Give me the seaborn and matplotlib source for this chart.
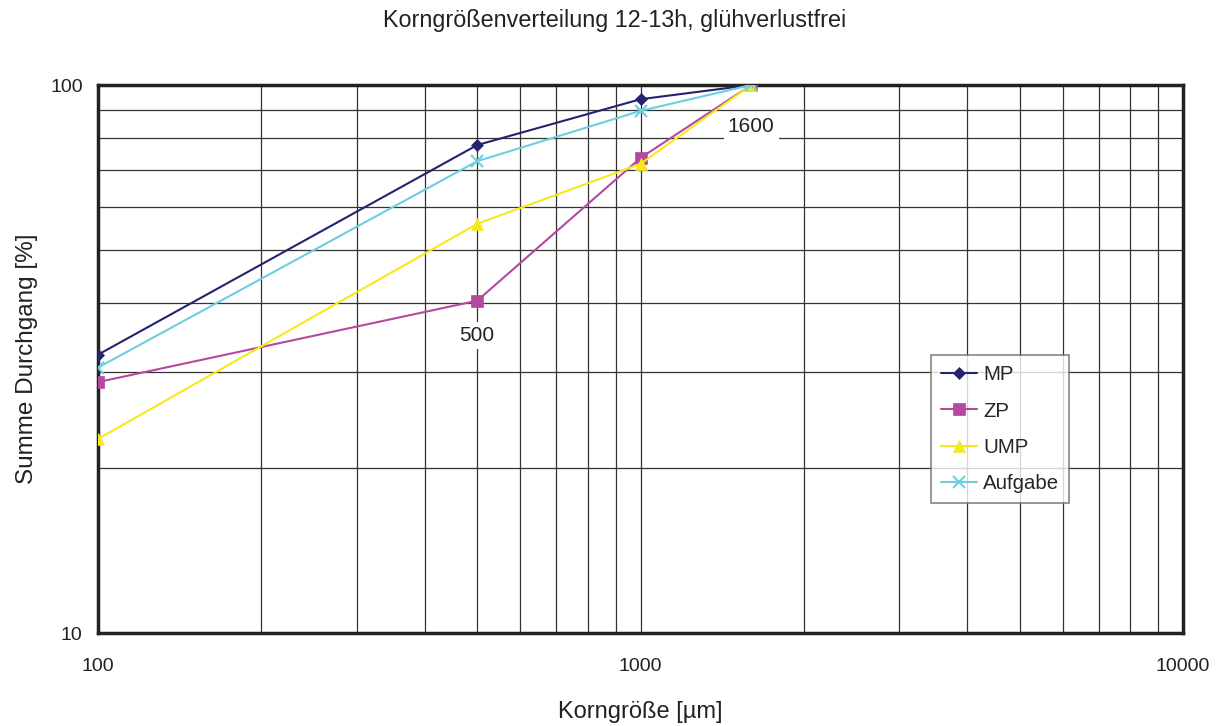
import numpy as np
import pandas as pd
import matplotlib
matplotlib.use("Agg")
import matplotlib.pyplot as plt
import seaborn as sns
from matplotlib.ticker import FixedLocator, NullFormatter, FixedFormatter

# data
korngroesse = [100, 500, 1000, 1600]
mp = [32.2, 77.7, 94.2, 100]
zp = [28.7, 40.4, 73.6, 100]
ump = [22.6, 55.8, 71.8, 100]
aufgabe = [30.5, 72.6, 89.7, 100]

series_names = ["MP", "ZP", "UMP", "Aufgabe"]
colors = {"MP": "#232370", "ZP": "#b5489f", "UMP": "#f7e81a", "Aufgabe": "#6ccfe0"}
markers = {"MP": "D", "ZP": "s", "UMP": "^", "Aufgabe": "x"}
msizes = {"MP": 6.5, "ZP": 8.5, "UMP": 8.5, "Aufgabe": 8.5}

df = pd.DataFrame({
    "x": korngroesse * 4,
    "y": mp + zp + ump + aufgabe,
    "serie": [n for n in series_names for _ in korngroesse],
})

sns.set_style("white")
plt.rcParams["font.family"] = ["Liberation Sans", "DejaVu Sans"]

fig = plt.figure(figsize=(12.29, 7.26), dpi=100)
ax = fig.add_axes([98 / 1229, 1 - 633 / 726, (1183 - 98) / 1229, (633 - 85) / 726])

ax.set_xscale("log")
ax.set_yscale("log")
ax.set_xlim(100, 10000)
ax.set_ylim(10, 100)

# grid (major + minor)
ax.xaxis.set_major_locator(FixedLocator([100, 1000, 10000]))
ax.xaxis.set_major_formatter(FixedFormatter(["100", "1000", "10000"]))
ax.xaxis.set_minor_locator(FixedLocator([m * d for d in (100, 1000) for m in range(2, 10)]))
ax.xaxis.set_minor_formatter(NullFormatter())
ax.yaxis.set_major_locator(FixedLocator([10, 100]))
ax.yaxis.set_major_formatter(FixedFormatter(["10", "100"]))
ax.yaxis.set_minor_locator(FixedLocator([m * 10 for m in range(2, 10)]))
ax.yaxis.set_minor_formatter(NullFormatter())
ax.grid(True, which="both", color="#333333", linewidth=0.9)
ax.set_axisbelow(True)

for name in series_names:
    sub = df[df["serie"] == name]
    sns.lineplot(
        data=sub, x="x", y="y", color=colors[name], marker=markers[name],
        markersize=msizes[name], markeredgecolor=colors[name],
        markeredgewidth=1.5 if name == "Aufgabe" else 0.5,
        linewidth=1.5, label=name, ax=ax, zorder=3,
    )

# data labels
box = dict(facecolor="white", edgecolor="none", pad=3)
ax.annotate("500", (korngroesse[1], zp[1]), xytext=(0, -25), textcoords="offset points",
            ha="center", va="center", fontsize=15, color="#222222", bbox=box, zorder=4)
ax.annotate("1600", (korngroesse[3], zp[3]), xytext=(0, -30), textcoords="offset points",
            ha="center", va="center", fontsize=15, color="#222222", bbox=box, zorder=4)

for sp in ax.spines.values():
    sp.set_visible(True)
    sp.set_color("#222222")
    sp.set_linewidth(2.5)

ax.tick_params(axis="both", which="major", direction="out", length=5, width=1,
               color="#555555", labelsize=14, labelcolor="#222222")
ax.tick_params(axis="x", which="major", pad=13)
ax.tick_params(axis="y", which="major", pad=6)
ax.tick_params(axis="both", which="minor", length=0)

ax.set_xlabel("Korngröße [µm]", fontsize=17, color="#222222", labelpad=19)
ax.set_ylabel("Summe Durchgang [%]", fontsize=17.5, color="#222222", labelpad=9)
fig.text(0.5, 1 - 20 / 726, "Korngrößenverteilung 12-13h, glühverlustfrei", fontsize=16.8,
         color="#222222", ha="center", va="center")

leg = ax.legend(loc="upper left", bbox_to_anchor=((931 - 98) / 1085, 1 - (355 - 85) / 548),
                frameon=True, fancybox=False, fontsize=14.7, handlelength=1.75,
                handletextpad=0.3, labelspacing=0.85, borderpad=0.5, borderaxespad=0)
leg.get_frame().set_edgecolor("#666666")
leg.get_frame().set_linewidth(1.2)

fig.savefig("out.png", dpi=100)
